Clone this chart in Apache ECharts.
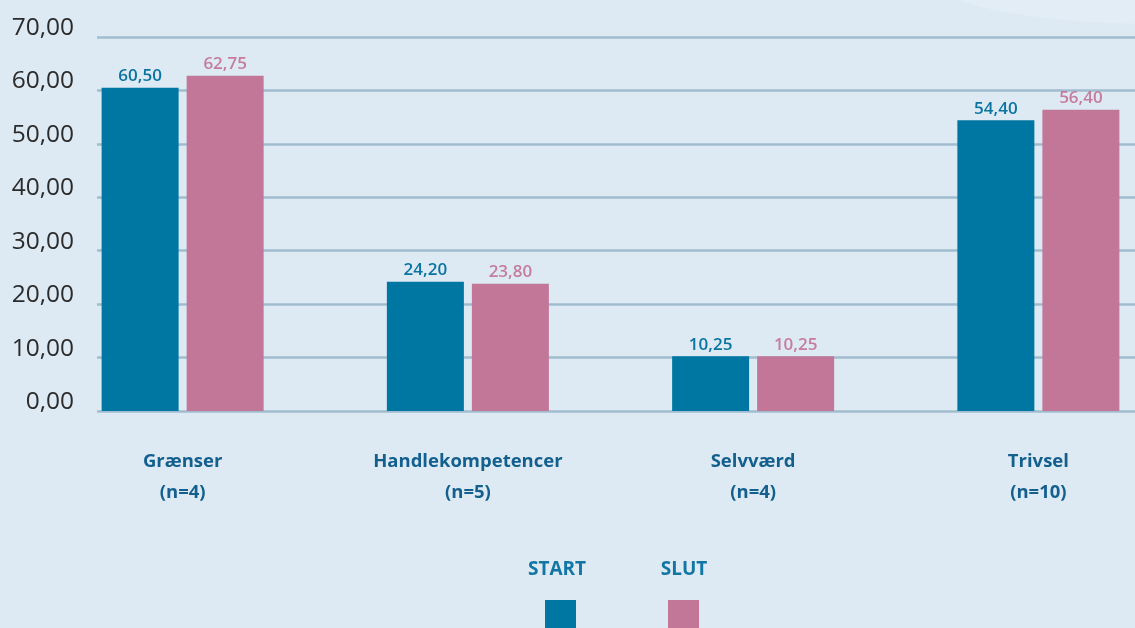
<!DOCTYPE html>
<html>
<head>
<meta charset="utf-8">
<script src="https://cdn.jsdelivr.net/npm/echarts@6/dist/echarts.min.js"></script>
<style>
  html, body { margin: 0; padding: 0; background: #ddeaf4; }
  #chart { width: 1135px; height: 628px; }
</style>
</head>
<body>
<div id="chart"></div>
<script>
// Categories and their respondent counts
const catNames = ['Grænser', 'Handlekompetencer', 'Selvværd', 'Trivsel'];
const catCounts = [4, 5, 4, 10];

// Series values
const seriesNames = ['START', 'SLUT'];
const startValues = [60.50, 24.20, 10.25, 54.40];
const slutValues = [62.75, 23.80, 10.25, 56.40];

// Value axis range and ticks
const yMin = 0;
const yMax = 70;
const yStep = 10;

const colors = ['#0076a3', '#c27799'];
const labelColors = ['#0a74a0', '#c57c9d'];
const legendTextColor = '#1276a4';
const fontFamily = '"Open Sans", "Noto Sans", sans-serif';

const fmt = v => Number(v).toFixed(2).replace('.', ',');
const categories = catNames.map((n, i) => n + '\n(n=' + catCounts[i] + ')');

const chart = echarts.init(document.getElementById('chart'), null, { renderer: 'canvas' });

function barSeries(idx, data) {
  return {
    name: seriesNames[idx],
    type: 'bar',
    xAxisIndex: 0,
    yAxisIndex: 0,
    data: data,
    barWidth: 77,
    barGap: '10.4%',
    itemStyle: { color: colors[idx] },
    label: {
      show: true,
      position: 'top',
      distance: 3,
      formatter: p => fmt(p.value),
      color: labelColors[idx],
      fontFamily: fontFamily,
      fontWeight: 600,
      fontSize: 17
    }
  };
}

// Legend: name above a colour square, laid out from the series lists
const legendTextX = [557, 684];
const legendBoxX = [560.5, 683.5];
const legendGraphics = [];
seriesNames.forEach((name, i) => {
  legendGraphics.push({
    type: 'text',
    x: legendTextX[i],
    y: 560,
    style: {
      text: name,
      align: 'center',
      verticalAlign: 'top',
      fill: legendTextColor,
      font: 'bold 19px ' + fontFamily
    }
  });
  legendGraphics.push({
    type: 'rect',
    x: legendBoxX[i] - 15.5,
    y: 600,
    shape: { width: 31, height: 31 },
    style: { fill: colors[i] }
  });
});

const option = {
  backgroundColor: '#ddeaf4',
  animation: false,
  graphic: [
    {
      type: 'ellipse',
      x: 1160,
      y: -22,
      shape: { cx: 0, cy: 0, rx: 230, ry: 46 },
      style: { fill: '#e2edf6' },
      z: -10
    }
  ].concat(legendGraphics),
  grid: [
    { left: 40, width: 1141, top: 37, bottom: 217, outerBoundsMode: 'none' },
    { left: 97, right: -10, top: 37, bottom: 217, outerBoundsMode: 'none' }
  ],
  xAxis: [
    {
      type: 'category',
      gridIndex: 0,
      data: categories,
      axisLine: { show: false },
      axisTick: { show: false },
      axisLabel: {
        margin: 35,
        color: '#135f8e',
        fontFamily: fontFamily,
        fontWeight: 'bold',
        fontSize: 18.5,
        lineHeight: 31,
        interval: 0
      }
    },
    {
      type: 'value',
      gridIndex: 1,
      show: false,
      min: 0,
      max: 1
    }
  ],
  yAxis: [
    {
      type: 'value',
      gridIndex: 0,
      min: yMin,
      max: yMax,
      interval: yStep,
      show: false
    },
    {
      type: 'value',
      gridIndex: 1,
      min: yMin,
      max: yMax,
      interval: yStep,
      axisLine: { show: false },
      axisTick: { show: false },
      splitLine: { show: true, lineStyle: { color: '#a0bccf', width: 2.5 } },
      axisLabel: {
        margin: 23,
        formatter: v => fmt(v),
        color: '#2b2b2b',
        fontFamily: fontFamily,
        fontSize: 24.5,
        verticalAlign: 'bottom',
        lineHeight: 18
      }
    }
  ],
  series: [
    barSeries(0, startValues),
    barSeries(1, slutValues)
  ]
};

chart.setOption(option);
</script>
</body>
</html>
